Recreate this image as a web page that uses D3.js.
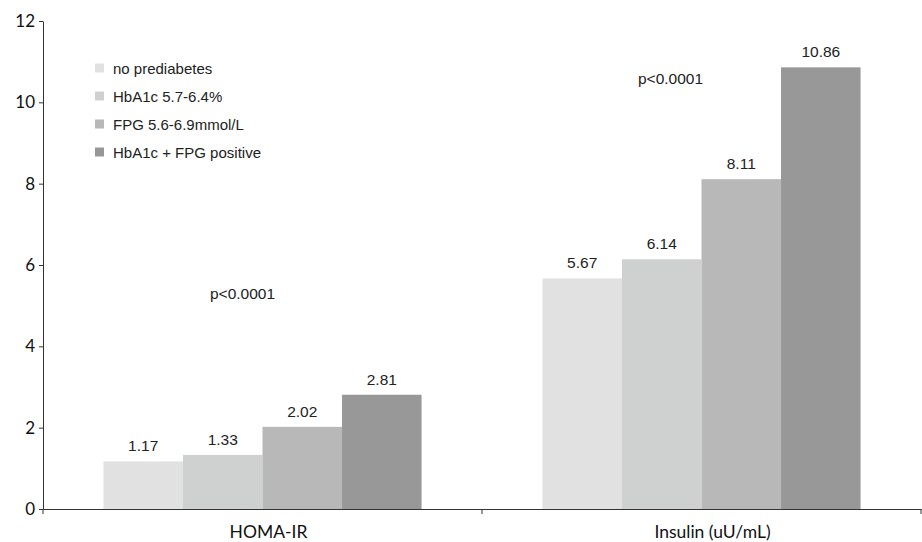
<!DOCTYPE html>
<html><head><meta charset="utf-8">
<script src="https://cdn.jsdelivr.net/npm/d3@7"></script>
<style>body{margin:0;background:#fff}</style>
</head><body>
<svg id="c" width="922" height="542"></svg>
<script>
const categories = ["HOMA-IR", "Insulin (uU/mL)"];
const seriesNames = ["no prediabetes", "HbA1c 5.7-6.4%", "FPG 5.6-6.9mmol/L", "HbA1c + FPG positive"];
const seriesColors = ["#e1e1e1", "#cfd1d0", "#b8b8b8", "#989898"];
const values = [
  [1.17, 1.33, 2.02, 2.81],
  [5.67, 6.14, 8.11, 10.86]
];
const pLabels = ["p<0.0001", "p<0.0001"];
const pValuesY = [5.3, 10.6];
const yTicks = [0, 2, 4, 6, 8, 10, 12];

const svg = d3.select("#c");
const x0 = d3.scaleBand().domain(categories).range([43, 921]).paddingInner(0).paddingOuter(0);
const y = d3.scaleLinear().domain([0, 12]).range([509, 21]);
const x1 = d3.scaleBand().domain(d3.range(seriesNames.length)).range([0, x0.bandwidth()]).paddingOuter(0.76).paddingInner(0);
const lblFont = "Liberation Sans, Arial, sans-serif";
const axFont = "Lato, 'Open Sans', sans-serif";

// bars
categories.forEach((c, ci) => {
  const g = svg.append("g").attr("transform", `translate(${x0(c)},0)`);
  values[ci].forEach((v, si) => {
    g.append("rect").attr("x", x1(si)).attr("width", x1.bandwidth())
      .attr("y", y(v)).attr("height", y(0) - y(v)).attr("fill", seriesColors[si]);
    g.append("text").attr("x", x1(si) + x1.bandwidth() / 2).attr("y", y(v) - 10)
      .attr("text-anchor", "middle").attr("font-family", lblFont)
      .attr("font-size", 15.5).attr("fill", "#222").text(v.toFixed(2));
  });
  g.append("text").attr("x", x0.bandwidth() / 2 - 20 + (ci === 1 ? -11 : 0)).attr("y", y(pValuesY[ci]) + 6)
    .attr("text-anchor", "middle").attr("font-family", lblFont)
    .attr("font-size", 15.5).attr("fill", "#222").text(pLabels[ci]);
});

// y axis
const yAxis = svg.append("g").attr("transform", "translate(43,0)")
  .call(d3.axisLeft(y).tickValues(yTicks).tickSize(4).tickSizeOuter(0).tickFormat(d3.format("d")));
yAxis.select(".domain").attr("stroke", "#333");
yAxis.selectAll(".tick line").attr("stroke", "#333");
yAxis.selectAll("text").attr("font-family", axFont).attr("font-size", 17).attr("fill", "#111").attr("dx", -1);

// x axis
const xAxis = svg.append("g").attr("transform", `translate(0,${y(0)})`)
  .call(d3.axisBottom(x0).tickSize(0).tickSizeOuter(0));
xAxis.select(".domain").attr("stroke", "#333");
xAxis.selectAll("text").attr("font-family", axFont).attr("font-size", 17.5).attr("fill", "#111")
  .attr("y", 29).attr("dy", 0).attr("dx", d => d === categories[0] ? 6 : 11);
const bounds = [43, x0(categories[1]), 921];
svg.append("g").selectAll("line").data(bounds).join("line")
  .attr("x1", d => d).attr("x2", d => d).attr("y1", y(0)).attr("y2", y(0) + 5).attr("stroke", "#333");

// legend
const leg = svg.append("g").attr("transform", "translate(95,68)");
seriesNames.forEach((n, i) => {
  const gi = leg.append("g").attr("transform", `translate(0,${i * 28})`);
  gi.append("rect").attr("x", 0).attr("y", -4.5).attr("width", 9).attr("height", 9).attr("fill", seriesColors[i]);
  gi.append("text").attr("x", 18).attr("y", 5.5).attr("font-family", lblFont)
    .attr("font-size", 15).attr("fill", "#222").text(n);
});
</script>
</body></html>
